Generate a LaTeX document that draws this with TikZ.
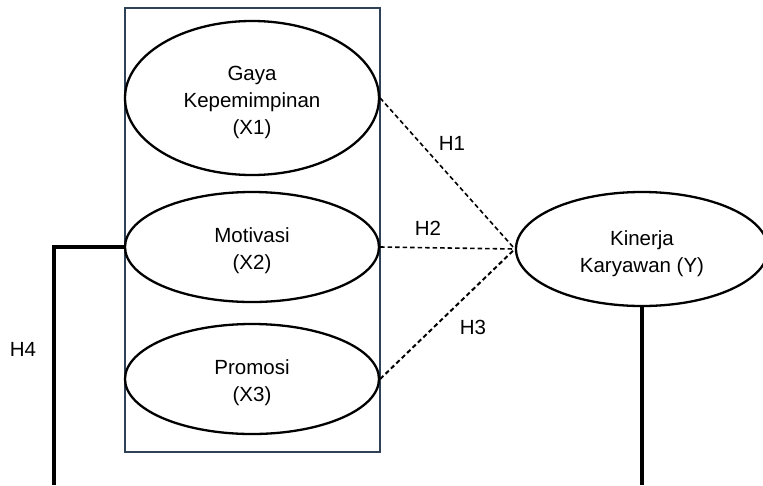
\documentclass[tikz,border=0pt]{standalone}
\usepackage{fontspec}
\setmainfont{Liberation Sans}
\usetikzlibrary{shapes.geometric}
\definecolor{framecol}{HTML}{2E4156}
\begin{document}
\begin{tikzpicture}[x=1pt,y=-1pt,
  var/.style={draw=black,line width=2.3pt,ellipse,inner sep=0pt},
  vartext/.style={align=center,inner sep=0pt,yshift=-4pt,
    font=\fontsize{20.5}{27}\selectfont},
  lbl/.style={font=\fontsize{20.5}{27}\selectfont,inner sep=0pt},
  hyp/.style={dashed,dash pattern=on 4.5pt off 3pt,line width=1.6pt},
  solidln/.style={line width=3.2pt}]
\useasboundingbox (0,0) rectangle (763,485);
\node[draw=framecol,line width=2.2pt,minimum width=255pt,minimum height=444pt,inner sep=0pt] (frame) at (252.5,230) {};
\node[var,minimum width=254pt,minimum height=154pt,
  label={[vartext]center:{Gaya\\Kepemimpinan\\(X1)}}] (x1) at (252,98) {};
\node[var,minimum width=254pt,minimum height=110pt,
  label={[vartext]center:{Motivasi\\(X2)}}] (x2) at (252,247) {};
\node[var,minimum width=254pt,minimum height=110pt,
  label={[vartext]center:{Promosi\\(X3)}}] (x3) at (252,379) {};
\node[var,minimum width=252pt,minimum height=114pt,
  label={[vartext,yshift=-1pt]center:{Kinerja\\Karyawan (Y)}}] (y) at (642,249) {};
\draw[hyp] (x1.east) -- (y.west);
\draw[hyp] (x2.east) -- (y.west);
\draw[hyp,line width=2pt] (x3.east) -- (y.west);
\node[lbl] (h1) at (452,143) {H1};
\node[lbl] (h2) at (428,228) {H2};
\node[lbl] (h3) at (473,327) {H3};
\node[lbl] (h4) at (23,349) {H4};
\coordinate (lb) at (54,485);
\coordinate (rb) at (642,485);
\draw[solidln] (x2.west) -| (lb);
\draw[solidln] (y.south) -- (rb);
\end{tikzpicture}
\end{document}
